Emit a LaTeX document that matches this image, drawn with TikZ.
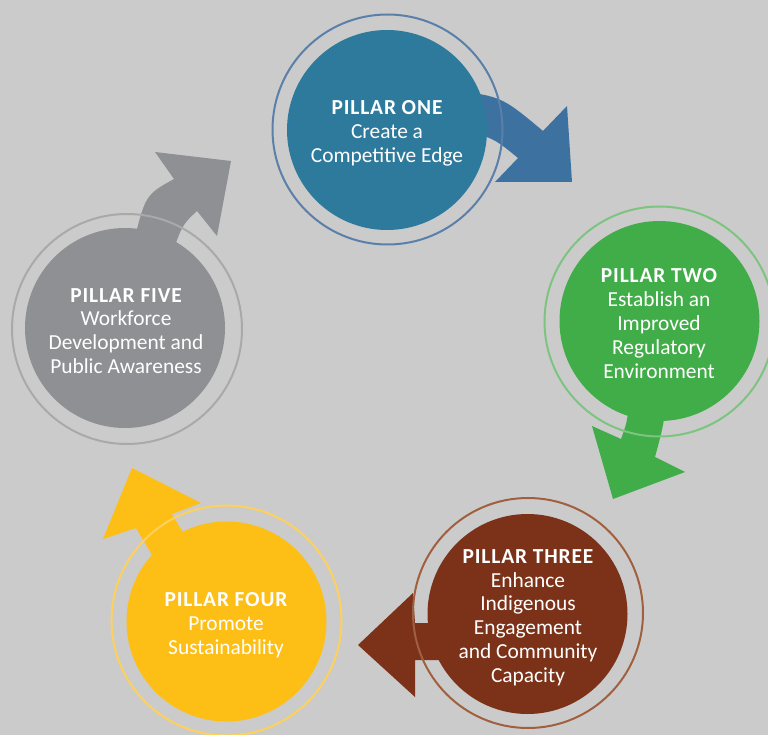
\documentclass[tikz,border=0pt]{standalone}
\usepackage{fontspec}
\setmainfont{Carlito}
\definecolor{bgc}{HTML}{CBCBCB}
\definecolor{fA}{HTML}{2E7A9C}
\definecolor{aA}{HTML}{3C71A0}
\definecolor{rA}{HTML}{5A80AA}
\definecolor{fB}{HTML}{41AD49}
\definecolor{rB}{HTML}{7DC480}
\definecolor{fC}{HTML}{7B3218}
\definecolor{rC}{HTML}{A0603F}
\definecolor{fD}{HTML}{FDBF16}
\definecolor{rD}{HTML}{FDD15A}
\definecolor{fE}{HTML}{8E9093}
\definecolor{rE}{HTML}{A9A9A9}
\newcommand{\pillarhead}[1]{{\bfseries\addfontfeatures{LetterSpace=4}#1}}
\tikzset{
  pfill/.style={circle, inner sep=0pt, minimum size=200pt, fill=#1},
  pring/.style={circle, inner sep=0pt, minimum size=230pt, draw=#1, line width=2pt},
  ptext/.style={text=white, align=center, inner sep=0pt, font=\fontsize{21.4}{23.8}\selectfont}
}
\begin{document}
\begin{tikzpicture}[x=1pt,y=-1pt]
\useasboundingbox (0,0) rectangle (768,735);
\clip (0,0) rectangle (768,735);
\fill[bgc] (0,0) rectangle (768,735);

% arrows (under the circles)
\fill[aA] (440,90) .. controls (500,95) .. (543,131) -- (567,106) -- (572,182) -- (495,182) -- (518,158) .. controls (490,135) .. (440,130) -- cycle;
\fill[fB] (630,380) .. controls (628,420) .. (621,439) -- (592,426) -- (613,499) -- (685,472) -- (655,457) .. controls (665,420) .. (666,380) -- cycle;
\fill[fC] (470,623) -- (415,623) -- (413,593) -- (358,645) -- (415,697) -- (415,660) -- (470,660) -- cycle;
\fill[fD] (176,595) -- (136,528) -- (103,539) -- (132,468) -- (201,503) -- (172,514) -- (212,581) -- cycle;
\fill[fE] (132,250) .. controls (145,195) .. (174,179) -- (155,152) -- (231,161) -- (217,236) -- (197,211) .. controls (182,225) .. (170,260) -- cycle;

% circles
\node[pfill=fA] (p1) at (387,130) {};
\node[pring=rA] (r1) at (387.5,129.5) {};
\node[pfill=fB] (p2) at (659.5,321) {};
\node[pring=rB] (r2) at (659.5,321.5) {};
\node[pfill=fC] (p3) at (527.5,614) {};
\node[pring=rC] (r3) at (528,613) {};
\node[pfill=fD] (p4) at (226.5,621.5) {};
\node[pring=rD] (r4) at (226.5,620.5) {};
\node[pfill=fE] (p5) at (125,328) {};
\node[pring=rE] (r5) at (127,329) {};

% texts
\node[ptext] (t1) at (387,133.5) {\pillarhead{PILLAR ONE}\\Create a\\Competitive Edge};
\node[ptext] (t2) at (659,323.5) {\pillarhead{PILLAR TWO}\\Establish an\\Improved\\Regulatory\\Environment};
\node[ptext] (t3) at (528,617.5) {\pillarhead{PILLAR THREE}\\Enhance\\Indigenous\\Engagement\\and Community\\Capacity};
\node[ptext] (t4) at (226,625.4) {\pillarhead{PILLAR FOUR}\\Promote\\Sustainability};
\node[ptext] (t5) at (126,331) {\pillarhead{PILLAR FIVE}\\Workforce\\Development and\\Public Awareness};
\end{tikzpicture}
\end{document}
